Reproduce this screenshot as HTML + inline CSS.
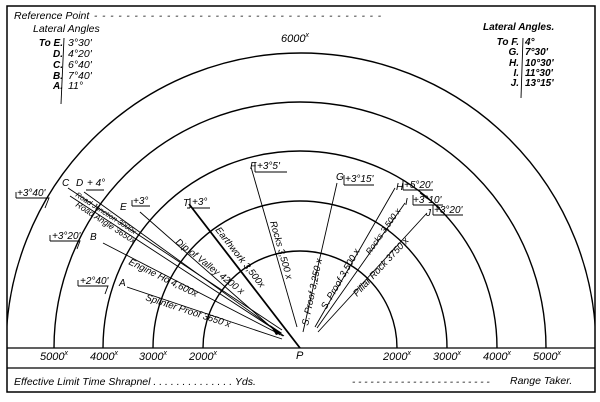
<!DOCTYPE html>
<html><head><meta charset="utf-8"><style>
html,body{margin:0;padding:0;background:#fff}
svg{display:block}
text{font-family:"Liberation Sans",sans-serif;font-style:italic;fill:#000}
</style></head><body>
<svg width="600" height="402" viewBox="0 0 600 402" xmlns="http://www.w3.org/2000/svg">
<defs><clipPath id="c"><rect x="7" y="6" width="588" height="342"/></clipPath></defs>
<rect x="7" y="6" width="588" height="386" fill="none" stroke="#000" stroke-width="1.5"/>
<line x1="7" y1="348" x2="595" y2="348" stroke="#000" stroke-width="1.3"/>
<line x1="7" y1="368" x2="595" y2="368" stroke="#000" stroke-width="1.3"/>
<g clip-path="url(#c)" fill="none" stroke="#000" stroke-width="1.4">
<path d="M203,348 A97,97 0 0 1 397,348"/>
<path d="M153,348 A147,147 0 0 1 447,348"/>
<path d="M103,348 A197,197 0 0 1 497,348"/>
<path d="M54,348 A246,246 0 0 1 546,348"/>
<path d="M6,348 A295,295 0 0 1 596,348"/>
</g>
<g stroke="#000" stroke-width="0.9" fill="none">
<line x1="189" y1="204" x2="300" y2="348" stroke-width="1.8"/>
<line x1="251" y1="167" x2="297" y2="327"/>
<line x1="337" y1="183" x2="303" y2="332"/>
<line x1="395" y1="188" x2="315" y2="327"/>
<line x1="405" y1="203" x2="317" y2="328"/>
<line x1="427" y1="213" x2="318" y2="332"/>
<line x1="420" y1="193" x2="440" y2="208"/>
<line x1="68" y1="188" x2="282" y2="330"/>
<line x1="70" y1="196" x2="280" y2="333"/>
<line x1="84" y1="192" x2="284" y2="336"/>
<line x1="140" y1="212" x2="280" y2="335"/>
<line x1="103" y1="243" x2="283" y2="336"/>
<line x1="127" y1="287" x2="282" y2="339"/>
<line x1="64" y1="38" x2="61" y2="104"/>
<line x1="523" y1="38" x2="521" y2="98"/>
<!-- label brackets -->
<path d="M16,198 v-6 M16,198 h33 l-4,10"/>
<path d="M50,241 v-6 M50,241 h30 l-3,8"/>
<path d="M78,286 v-6 M78,286 h30 l-3,8"/>
<path d="M86,190 h18"/>
<path d="M132,206 v-6 M132,206 h18"/>
<path d="M190,208 h-3 M192,208 h18 M190,198 v10"/>
<path d="M255,172 h32 M255,172 v-10"/>
<path d="M344,185 h30 M344,185 v-10"/>
<path d="M403,190 h30 M403,190 v-10"/>
<path d="M413,205 h30 M413,205 v-10"/>
<path d="M433,215 h30 M433,215 v-10"/>
</g>
<polygon points="270,325 282,333 276,335" fill="#000"/>
<g font-size="11">
<text x="14" y="19" font-size="10.5">Reference Point</text>
<text x="94" y="19" font-size="10" letter-spacing="1">- - - - - - - - - - - - - - - - - - - - - - - - - - - - - - - - - - - -</text>
<text x="33" y="32" font-size="10.5">Lateral Angles</text>
<g font-size="10" text-anchor="end" font-weight="bold">
<text x="63" y="46">To E.</text><text x="63" y="57">D.</text><text x="63" y="68">C.</text><text x="63" y="79">B.</text><text x="63" y="89">A.</text>
<text x="519" y="45">To F.</text><text x="519" y="55">G.</text><text x="519" y="66">H.</text><text x="519" y="76">I.</text><text x="519" y="86">J.</text>
</g>
<g font-size="10.5">
<text x="68" y="46">3°30'</text><text x="68" y="57">4°20'</text><text x="68" y="68">6°40'</text><text x="68" y="79">7°40'</text><text x="68" y="89">11°</text>
</g>
<g font-size="10" font-weight="bold">
<text x="525" y="45">4°</text><text x="525" y="55">7°30'</text><text x="525" y="66">10°30'</text><text x="525" y="76">11°30'</text><text x="525" y="86">13°15'</text>
</g>
<text x="483" y="30" font-size="10" font-weight="bold">Lateral Angles.</text>
<text x="281" y="42" font-size="11">6000<tspan font-size="7" dy="-5">x</tspan></text>
<g font-size="10">
<text x="17" y="196">+3°40'</text>
<text x="52" y="239">+3°20'</text><text x="90" y="240">B</text>
<text x="80" y="284">+2°40'</text><text x="119" y="286">A</text>
<text x="62" y="186">C</text><text x="76" y="186">D</text><text x="87" y="186">+ 4°</text>
<text x="120" y="210">E</text><text x="133" y="204">+3°</text>
<text x="183" y="206">T</text><text x="192" y="205">+3°</text>
<text x="250" y="169">F</text><text x="257" y="169">+3°5'</text>
<text x="336" y="180">G</text><text x="345" y="182">+3°15'</text>
<text x="396" y="190">H</text><text x="404" y="188">+5°20'</text>
<text x="405" y="205">I</text><text x="413" y="203">+3°10'</text>
<text x="426" y="216">J</text><text x="434" y="213">+3°20'</text>
<text x="296" y="359" font-size="11">P</text>
</g>
<g font-size="9.5">
<text transform="translate(75,196) rotate(33)" font-size="7.5">Road Junction 3000x</text>
<text transform="translate(75,206) rotate(33)" font-size="8.5">Road Angle 3650x</text>
<text transform="translate(175,243) rotate(38)">Dip of Valley 4200 x</text>
<text transform="translate(128,264) rotate(26)">Engine Ho 4,600x</text>
<text transform="translate(145,300) rotate(18)">Splinter Proof 3650 x</text>
<text transform="translate(215,230) rotate(52)">Earthwork 3,500x</text>
<text transform="translate(270,222) rotate(74)">Rocks 3,500 x</text>
<text transform="translate(308,326) rotate(-78)">S. Proof 3,250 x</text>
<text transform="translate(326,310) rotate(-60)">S. Proof 3,500 x</text>
<text transform="translate(370,255) rotate(-55)" font-size="8.5">Rocks 3,500 x</text>
<text transform="translate(357,297) rotate(-47)">Pillar Rock 3750 x</text>
</g>
<g font-size="11">
<text x="40" y="360">5000<tspan font-size="7" dy="-5">x</tspan></text>
<text x="90" y="360">4000<tspan font-size="7" dy="-5">x</tspan></text>
<text x="139" y="360">3000<tspan font-size="7" dy="-5">x</tspan></text>
<text x="189" y="360">2000<tspan font-size="7" dy="-5">x</tspan></text>
<text x="383" y="360">2000<tspan font-size="7" dy="-5">x</tspan></text>
<text x="433" y="360">3000<tspan font-size="7" dy="-5">x</tspan></text>
<text x="483" y="360">4000<tspan font-size="7" dy="-5">x</tspan></text>
<text x="533" y="360">5000<tspan font-size="7" dy="-5">x</tspan></text>
</g>
<text x="14" y="385" font-size="10.5">Effective Limit Time Shrapnel . . . . . . . . . . . . . . Yds.</text>
<text x="352" y="385" font-size="10">- - - - - - - - - - - - - - - - - - - - - - -</text>
<text x="510" y="384" font-size="10.5">Range Taker.</text>
</g>
</svg>
</body></html>
